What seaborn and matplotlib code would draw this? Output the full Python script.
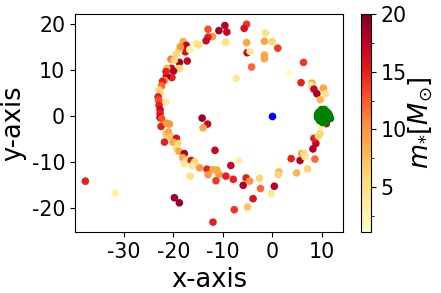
import numpy as np
import pandas as pd
import matplotlib
matplotlib.use("Agg")
import matplotlib.pyplot as plt
import seaborn as sns
from matplotlib.colors import Normalize
from matplotlib.cm import ScalarMappable
from matplotlib.ticker import AutoMinorLocator


# ======================================================
# DATA
# ======================================================

star_x = [-13.0, -9.6, -10.8, -9.2, -5.2, -5.7, -12.1, -13.0, -13.4, -15.4,
          -14.9, -9.4, -1.4, -5.2, -1.6, 0.0, -5.1, -4.5, 1.1, -1.6,
          -1.6, -4.2, -7.3, 3.3, 6.3, 5.8, 8.0, 7.8, 8.4, 9.0,
          10.3, 10.7, 9.7, -14.2, -18.0, -17.4, -17.6, -17.2, -18.8, -18.8,
          -16.7, -18.6, -19.4, -20.5, -19.8, -18.8, -20.4, -21.3, -20.0, -20.3,
          -21.4, -21.5, -21.8, -22.2, -22.4, -22.9, -22.7, -21.6, -23.1, -23.0,
          -22.9, -22.7, -22.7, -22.7, -22.4, -22.5, -21.4, -20.8, -21.8, -21.5,
          -21.0, -20.5, -19.4, -20.1, -19.1, -19.4, -18.9, -17.8, -18.1, -17.4,
          -17.8, -16.4, -15.7, -16.2, -16.6, -14.7, -13.1, -14.0, -11.6, -13.2,
          -12.0, -13.0, -11.4, -10.8, -11.2, -9.4, -8.4, -7.9, -19.8, -18.8,
          -6.8, -5.9, -5.0, -7.7, -12.0, -37.8, -31.8, -5.3, -4.6, -2.6,
          -2.4, 0.4, -0.2, -3.9, 1.3, 1.2, 3.8, 4.9, 5.6, 5.9,
          6.4, 6.6, 7.1, 8.6, 8.2, 8.8, 8.4, 9.3, 9.6, 10.9,
          9.8]

star_y = [18.9, 19.7, 18.6, 18.3, 20.0, 19.1, 17.3, 17.2, 16.4, 15.8,
          15.5, 16.1, 18.1, 16.0, 16.3, 16.2, 13.8, 14.1, 14.8, 13.3,
          12.5, 10.7, 8.2, 9.3, 11.7, 7.3, 7.2, 6.7, 5.9, 4.9,
          6.1, 4.9, 3.6, -0.4, 16.2, 15.4, 14.0, 12.0, 11.7, 14.5,
          14.5, 15.1, 13.6, 12.4, 12.2, 10.4, 10.4, 10.4, 9.8, 8.4,
          8.7, 9.7, 7.8, 7.6, 6.6, 5.7, 5.1, 3.1, 4.2, 3.5,
          2.4, 1.4, 0.6, -0.3, -0.5, -2.2, -1.5, -1.7, -5.6, -3.8,
          -3.4, -4.5, -4.8, -5.6, -5.9, -7.0, -7.6, -8.1, -9.0, -9.6,
          -10.3, -9.6, -9.9, -10.7, -13.0, -11.2, -1.7, -2.5, -7.4, -11.5,
          -11.6, -12.7, -14.0, -12.6, -11.7, -13.0, -10.7, -13.7, -17.7, -18.8,
          -9.6, -15.0, -19.7, -20.3, -23.0, -14.1, -16.7, -13.4, -14.1, -13.5,
          -15.7, -15.2, -16.8, -17.9, -12.1, -12.7, -9.2, -12.3, -9.6, -8.1,
          -8.1, -8.8, -11.4, -9.3, -7.1, -5.9, -4.8, -4.3, -3.8, -1.6,
          -2.2]

star_mass = [13, 18, 19, 17, 14, 16, 10, 15, 17, 4,
             5, 5, 5, 9, 9, 6, 17, 4, 14, 9,
             9, 12, 4, 1.2, 14, 15, 9, 4, 17, 18,
             9, 5, 8, 19, 9, 17, 16, 17, 19, 5,
             3, 10, 6, 11, 6, 6, 17, 8, 18, 15,
             19, 15, 10, 15, 12, 6, 6, 4, 15, 13,
             15, 17, 15, 18, 13, 15, 10, 10, 15, 7,
             9, 7, 16, 9, 6, 5, 9, 18, 9, 6,
             4, 16, 6, 4, 5, 10, 17, 9, 17, 15,
             9, 10, 14, 10, 9, 15, 17, 15, 19, 19,
             3, 18, 7, 14, 15, 15, 3, 15, 10, 6,
             12, 18, 4, 16, 8, 6, 15, 8, 18, 9,
             6, 4, 6, 12, 18, 17, 15, 6, 6, 18,
             3]

# central object
center_x = [0.0]
center_y = [0.0]

# green clump on the right
clump_x = [9.2, 9.6, 10.0, 10.4, 10.8, 11.2, 9.0, 9.5, 10.0, 10.5,
           11.0, 11.5, 9.1, 9.6, 10.1, 10.6, 11.1, 11.6, 9.5, 10.0,
           10.5, 11.0, 10.1, 10.6, 9.8, 10.4]
clump_y = [1.0, 1.2, 1.3, 1.2, 1.1, 0.8, 0.4, 0.5, 0.6, 0.5,
           0.4, 0.2, -0.2, -0.1, 0.0, -0.1, -0.2, -0.3, -0.8, -0.9,
           -0.8, -0.7, -1.2, -1.2, 1.5, 1.5]

M_MIN, M_MAX = 1.1, 20


# ======================================================
# PLOT
# ======================================================

plt.rcParams["axes.unicode_minus"] = False

stars = pd.DataFrame({"x": star_x, "y": star_y, "m": star_mass})
center = pd.DataFrame({"x": center_x, "y": center_y})
clump = pd.DataFrame({"x": clump_x, "y": clump_y})

fig = plt.figure(figsize=(4.41, 2.93), dpi=100)
ax = fig.add_axes([0.170, 0.208, 0.608, 0.744])
cax = fig.add_axes([0.818, 0.208, 0.0227, 0.744])

sns.scatterplot(
    data=stars, x="x", y="y", hue="m",
    palette="YlOrRd", hue_norm=(M_MIN, M_MAX),
    s=30, linewidth=0, legend=False, ax=ax
)

sns.scatterplot(data=center, x="x", y="y", color="blue",
                s=30, linewidth=0, ax=ax)

sns.scatterplot(data=clump, x="x", y="y", color="green",
                s=30, linewidth=0, ax=ax)

ax.set_xlim(-39.9, 14.3)
ax.set_ylim(-25.15, 22.2)
ax.set_xticks([-30, -20, -10, 0, 10])
ax.set_yticks([-20, -10, 0, 10, 20])
ax.tick_params(labelsize=14.8)
ax.set_xlabel("x-axis", fontsize=18.5)
ax.set_ylabel("y-axis", fontsize=18.5)

sm = ScalarMappable(norm=Normalize(vmin=M_MIN, vmax=M_MAX), cmap="YlOrRd")
cbar = fig.colorbar(sm, cax=cax)
cbar.set_ticks([5, 10, 15, 20])
cbar.ax.yaxis.set_minor_locator(AutoMinorLocator(2))
cbar.ax.tick_params(labelsize=14.8)
cbar.set_label(r"$m_{*}[M_{\odot}]$", fontsize=18.5, labelpad=0)

fig.savefig("out.png", dpi=100)
